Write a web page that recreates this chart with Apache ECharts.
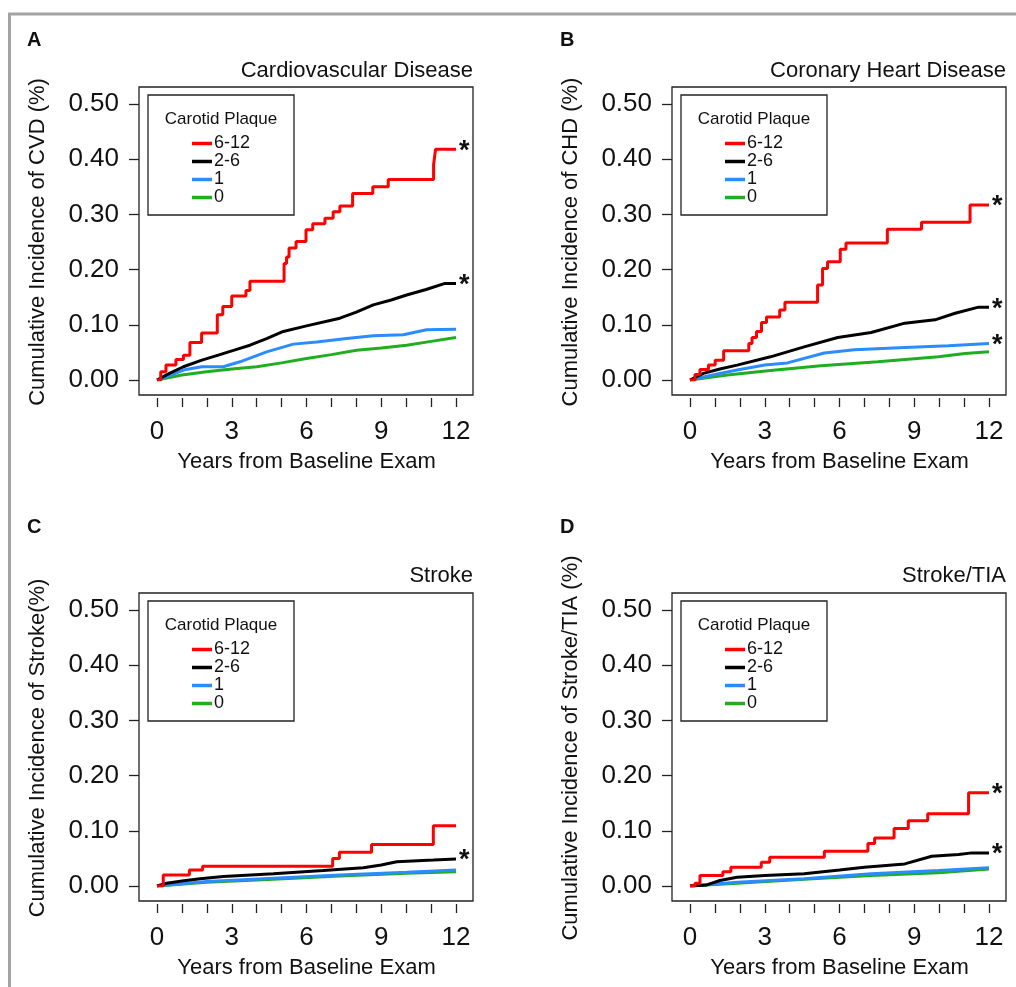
<!DOCTYPE html>
<html>
<head>
<meta charset="utf-8">
<script src="https://cdn.jsdelivr.net/npm/echarts@6/dist/echarts.min.js"></script>
<style>
  html, body { margin: 0; padding: 0; background: #fff; }
  #main { width: 1016px; height: 987px; }
</style>
</head>
<body>
<div id="main"></div>
<script>
// groups shown in every panel
var groups = ["6-12", "2-6", "1", "0"];
var groupColors = { "6-12": "#ff0000", "2-6": "#000000", "1": "#2a8cff", "0": "#1fae1f" };
var xTicks = [0, 3, 6, 9, 12];

// A - cardiovascular disease  [years, cumulative incidence]
var cvdRed = [[0,0],[0.15,0.015],[0.36,0.027],[0.76,0.037],[1.06,0.045],[1.32,0.068],[1.79,0.085],[2.42,0.118],[2.64,0.133],[3.0,0.152],[3.57,0.162],[3.73,0.179],[5.1,0.211],[5.2,0.223],[5.3,0.239],[5.58,0.251],[5.98,0.272],[6.25,0.283],[6.74,0.293],[7.07,0.305],[7.34,0.315],[7.85,0.338],[8.66,0.35],[9.28,0.363],[11.1,0.39],[11.18,0.418],[12.0,0.418]];
var cvdBlack = [[0,0],[0.5,0.012],[1.06,0.024],[1.8,0.036],[2.46,0.045],[3.1,0.054],[3.73,0.063],[4.4,0.075],[5.07,0.088],[6.0,0.098],[7.34,0.112],[8.0,0.123],[8.68,0.136],[9.4,0.145],[10.02,0.154],[10.8,0.164],[11.56,0.175],[12.0,0.175]];
var cvdBlue = [[0,0],[0.5,0.008],[1.06,0.018],[1.79,0.024],[2.66,0.024],[3.33,0.033],[4.4,0.051],[5.47,0.065],[6.41,0.069],[7.61,0.075],[8.68,0.08],[9.89,0.082],[10.82,0.091],[12.0,0.092]];
var cvdGreen = [[0,0],[1.0,0.009],[1.99,0.015],[3.0,0.02],[4.0,0.024],[5.0,0.031],[6.0,0.039],[7.0,0.046],[8.01,0.054],[9.0,0.058],[10.02,0.063],[11.0,0.07],[12.0,0.077]];

// B - coronary heart disease
var chdRed = [[0,0],[0.2,0.01],[0.4,0.019],[0.74,0.027],[1.01,0.036],[1.35,0.053],[2.36,0.066],[2.49,0.077],[2.67,0.088],[2.87,0.104],[3.07,0.114],[3.6,0.127],[3.81,0.141],[5.12,0.172],[5.32,0.202],[5.52,0.214],[6.03,0.237],[6.26,0.248],[7.92,0.273],[9.29,0.286],[11.24,0.317],[12.0,0.317]];
var chdBlack = [[0,0],[0.54,0.012],[1.2,0.02],[1.89,0.027],[3.23,0.042],[4.58,0.06],[5.93,0.077],[7.27,0.086],[8.62,0.103],[9.83,0.109],[10.64,0.121],[11.58,0.132],[12.0,0.132]];
var chdBlue = [[0,0],[1.0,0.01],[1.89,0.018],[3.0,0.027],[3.91,0.031],[5.39,0.049],[6.6,0.055],[8.62,0.059],[10.37,0.062],[12.0,0.066]];
var chdGreen = [[0,0],[1.5,0.009],[3.23,0.017],[5.25,0.026],[7.54,0.033],[9.97,0.042],[11.04,0.048],[12.0,0.051]];

// C - stroke
var strokeRed = [[0,0],[0.25,0.02],[1.3,0.029],[1.83,0.036],[7.05,0.05],[7.32,0.061],[8.61,0.075],[11.09,0.109],[12.0,0.109]];
var strokeBlack = [[0,0],[0.39,0.005],[1.0,0.009],[1.73,0.013],[2.66,0.017],[4.67,0.022],[6.67,0.028],[8.28,0.033],[9.0,0.038],[9.62,0.044],[11.09,0.047],[12.0,0.049]];
var strokeBlue = [[0,0],[2.0,0.008],[4.67,0.014],[7.34,0.02],[10.02,0.025],[12.0,0.029]];
var strokeGreen = [[0,0],[2.0,0.007],[4.67,0.012],[7.34,0.018],[10.02,0.023],[12.0,0.026]];

// D - stroke/TIA
var tiaRed = [[0,0],[0.2,0.005],[0.4,0.019],[1.32,0.026],[1.64,0.034],[2.86,0.043],[3.2,0.052],[5.39,0.063],[7.14,0.077],[7.41,0.087],[8.19,0.104],[8.76,0.118],[9.54,0.131],[11.18,0.169],[12.0,0.169]];
var tiaBlack = [[0,0],[0.67,0.002],[1.2,0.01],[1.89,0.016],[3.0,0.019],[4.58,0.022],[6.0,0.029],[7.0,0.034],[8.62,0.04],[9.7,0.054],[10.78,0.057],[11.31,0.06],[12.0,0.06]];
var tiaBlue = [[0,0],[1.89,0.007],[4.58,0.013],[7.27,0.022],[9.97,0.028],[12.0,0.033]];
var tiaGreen = [[0,0],[1.89,0.005],[4.58,0.012],[7.27,0.019],[9.97,0.024],[12.0,0.031]];

var panels = [
  { letter: "A", title: "Cardiovascular Disease", ylab: "Cumulative Incidence of CVD (%)", left: 157, top: 104, letterY: 40, titleY: 71,
    lines: { "6-12": cvdRed, "2-6": cvdBlack, "1": cvdBlue, "0": cvdGreen }, star: ["6-12", "2-6"] },
  { letter: "B", title: "Coronary Heart Disease", ylab: "Cumulative Incidence of CHD (%)", left: 690, top: 104, letterY: 40, titleY: 71,
    lines: { "6-12": chdRed, "2-6": chdBlack, "1": chdBlue, "0": chdGreen }, star: ["6-12", "2-6", "1"] },
  { letter: "C", title: "Stroke", ylab: "Cumulative Incidence of Stroke(%)", left: 157, top: 610, letterY: 527, titleY: 576,
    lines: { "6-12": strokeRed, "2-6": strokeBlack, "1": strokeBlue, "0": strokeGreen }, star: ["2-6"] },
  { letter: "D", title: "Stroke/TIA", ylab: "Cumulative Incidence of Stroke/TIA (%)", left: 690, top: 610, letterY: 527, titleY: 576,
    lines: { "6-12": tiaRed, "2-6": tiaBlack, "1": tiaBlue, "0": tiaGreen }, star: ["6-12", "2-6"] }
];

var font = "'Liberation Sans', Arial, Helvetica, sans-serif";
var W = 299, H = 276;
var grid = [], xAxis = [], yAxis = [], series = [], legend = [], graphic = [];

// grey frame round the figure
graphic.push({ type: "rect", shape: { x: 9.5, y: 14, width: 1040, height: 1000 }, style: { fill: "none", stroke: "#a3a3a3", lineWidth: 3 }, silent: true });

panels.forEach(function (p, i) {
  var bx = p.left - 18, by = p.top - 17, bw = W + 35, bh = H + 32;
  // outer box
  grid.push({ left: bx, top: by, width: bw, height: bh, show: true, borderColor: "#222", borderWidth: 1.3, backgroundColor: "transparent" });
  xAxis.push({ gridIndex: 2 * i, type: "value", show: false, min: 0, max: 1 });
  yAxis.push({ gridIndex: 2 * i, type: "value", show: false, min: 0, max: 1 });
  // data area
  grid.push({ left: p.left, top: p.top, width: W, height: H });
  xAxis.push({
    gridIndex: 2 * i + 1, type: "value", min: 0, max: 12, interval: 1, offset: 18,
    axisLine: { show: false, onZero: false },
    axisTick: { show: true, inside: false, length: 9, lineStyle: { color: "#222", width: 1.3 } },
    axisLabel: { margin: 21, fontSize: 26, color: "#111", fontFamily: font,
      formatter: function (v) { return xTicks.indexOf(v) >= 0 ? String(v) : ""; } },
    splitLine: { show: false },
    name: "Years from Baseline Exam", nameLocation: "middle", nameGap: 53,
    nameTextStyle: { fontSize: 22, color: "#111", fontFamily: font }
  });
  yAxis.push({
    gridIndex: 2 * i + 1, type: "value", min: 0, max: 0.5, interval: 0.1, offset: 18,
    axisLine: { show: false, onZero: false },
    axisTick: { show: true, inside: false, length: 10, lineStyle: { color: "#222", width: 1.3 } },
    axisLabel: { margin: 20, fontSize: 26, color: "#111", fontFamily: font,
      formatter: function (v) { return v.toFixed(2); } },
    splitLine: { show: false },
    name: p.ylab, nameLocation: "middle", nameGap: 90,
    nameTextStyle: { fontSize: 22, color: "#111", fontFamily: font }
  });

  // draw 0 first so the 6-12 curve sits on top
  groups.slice().reverse().forEach(function (g) {
    var starred = p.star.indexOf(g) >= 0;
    series.push({
      name: g, type: "line", xAxisIndex: 2 * i + 1, yAxisIndex: 2 * i + 1,
      data: p.lines[g], showSymbol: false, symbol: "none",
      step: g === "6-12" ? "end" : false,
      color: groupColors[g],
      lineStyle: { width: 3, color: groupColors[g] },
      endLabel: { show: starred, formatter: "*", fontSize: 27, fontWeight: "bold", color: "#111", fontFamily: font, distance: 3, offset: [0, 2] },
      z: 3
    });
  });

  // legend box
  var lx = bx + 9, ly = by + 8;
  graphic.push({ type: "rect", shape: { x: lx, y: ly, width: 146, height: 120 }, style: { fill: "#fff", stroke: "#222", lineWidth: 1.3 }, z: 1, silent: true });
  graphic.push({ type: "text", x: lx + 73, y: ly + 24, style: { text: "Carotid Plaque", font: "17px " + font, fill: "#111", textAlign: "center", textVerticalAlign: "middle" }, z: 2 });
  legend.push({
    data: groups, orient: "vertical", left: lx + 44, top: ly + 39.5, padding: 0, itemGap: 0,
    itemWidth: 20, itemHeight: 3.5, icon: "rect", selectedMode: false,
    textStyle: { fontSize: 18, lineHeight: 17, color: "#111", fontFamily: font, padding: [0, 0, 0, -3] }
  });

  // panel letter and title
  graphic.push({ type: "text", x: p.left - 130, y: p.letterY, style: { text: p.letter, font: "bold 20px " + font, fill: "#111", textVerticalAlign: "middle" } });
  graphic.push({ type: "text", x: bx + bw, y: p.titleY, style: { text: p.title, font: "22px " + font, fill: "#111", textAlign: "right", textVerticalAlign: "middle" } });
});

var chart = echarts.init(document.getElementById("main"), null, { renderer: "canvas" });
chart.setOption({
  animation: false,
  backgroundColor: "#fff",
  grid: grid,
  xAxis: xAxis,
  yAxis: yAxis,
  legend: legend,
  series: series,
  graphic: graphic
});
</script>
</body>
</html>
